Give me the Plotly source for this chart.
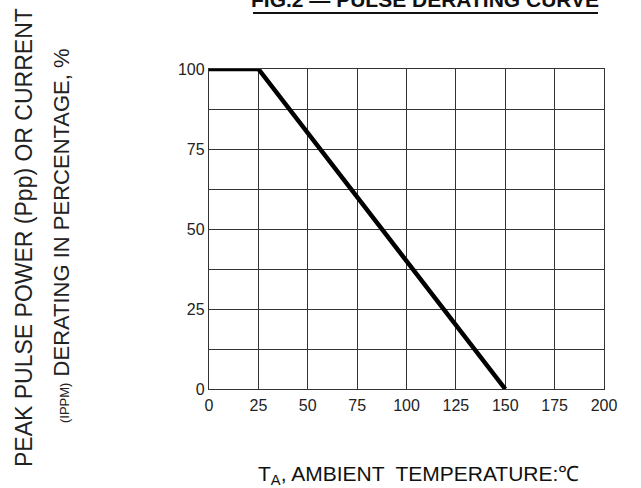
import plotly.graph_objects as go

# Data
temperature = [0, 25, 150]
derating_pct = [100, 100, 0]
x_ticks = [0, 25, 50, 75, 100, 125, 150, 175, 200]
y_ticks = [0, 25, 50, 75, 100]

title_text = "<b>FIG.2 \u2014 PULSE DERATING CURVE</b>"
y_title_1 = "PEAK PULSE POWER (Ppp) OR CURRENT"
y_title_2 = "<span style='font-size:13px'>(IPPM)</span> DERATING IN PERCENTAGE, %"
x_title = "T<sub>A</sub>, AMBIENT  TEMPERATURE:\u2103"

W, H = 641, 488
L, R, T, B = 209, 37, 69, 99
pw, ph = W - L - R, H - T - B

def px(x):
    return (x - L) / pw

def py(y):
    return (H - B - y) / ph

FONT = "Liberation Sans, Arial, sans-serif"
GRID = "#333333"

fig = go.Figure()
fig.add_trace(go.Scatter(
    x=temperature, y=derating_pct, mode="lines",
    line=dict(color="black", width=4.5), showlegend=False,
    cliponaxis=False,
))

fig.update_layout(
    width=W, height=H,
    margin=dict(l=L, r=R, t=T, b=B, pad=0),
    paper_bgcolor="white", plot_bgcolor="white",
    font=dict(family=FONT, color="#111111"),
    showlegend=False,
)

fig.update_xaxes(
    range=[0, 200], tickvals=x_ticks, ticktext=[str(v) for v in x_ticks],
    showgrid=True, gridcolor=GRID, gridwidth=1.3,
    showline=True, linecolor=GRID, linewidth=1.3, mirror=True,
    zeroline=False, ticks="", ticklabelstandoff=2,
    tickfont=dict(size=16, color="#222222", family=FONT),
)
fig.update_yaxes(
    range=[0, 100], tickvals=y_ticks, ticktext=[str(v) for v in y_ticks],
    showgrid=True, gridcolor=GRID, gridwidth=1.3,
    minor=dict(dtick=12.5, showgrid=True, gridcolor=GRID, gridwidth=1.3),
    showline=True, linecolor=GRID, linewidth=1.3, mirror=True,
    zeroline=False, ticks="", tickfont=dict(size=16, color="#222222", family=FONT),
)

# Title (partially clipped at top like reference)
fig.add_annotation(
    text=title_text, xref="paper", yref="paper",
    x=px(425), y=py(-1), xanchor="center", yanchor="middle",
    showarrow=False, font=dict(size=21, color="#111111", family=FONT),
)
fig.add_shape(
    type="line", xref="paper", yref="paper",
    x0=px(253), x1=px(598), y0=py(13), y1=py(13),
    line=dict(color="#111111", width=2),
)

# Y-axis titles (two rotated lines)
fig.add_annotation(
    text=y_title_1, xref="paper", yref="paper",
    x=px(24), y=py(238), xanchor="center", yanchor="middle",
    textangle=-90, showarrow=False,
    font=dict(size=23, color="#222222", family=FONT),
)
fig.add_annotation(
    text=y_title_2, xref="paper", yref="paper",
    x=px(61), y=py(236), xanchor="center", yanchor="middle",
    textangle=-90, showarrow=False,
    font=dict(size=22, color="#222222", family=FONT),
)

# X-axis title
fig.add_annotation(
    text=x_title, xref="paper", yref="paper",
    x=px(418), y=py(475), xanchor="center", yanchor="middle",
    showarrow=False, font=dict(size=21, color="#111111", family=FONT),
)

fig.write_html(
    "out.html",
    config={"displayModeBar": False},
    post_script="document.body.style.margin='0';document.body.style.overflow='hidden';",
)
